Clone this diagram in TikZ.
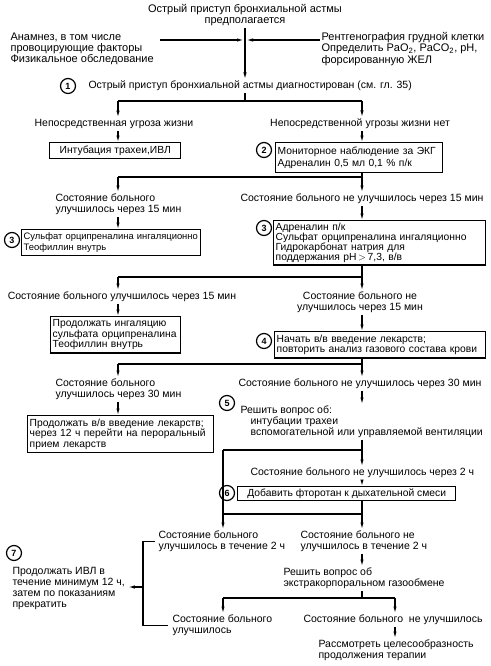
\documentclass[tikz,border=0pt]{standalone}
\usepackage{fontspec}
\setmainfont{Liberation Sans}
\usetikzlibrary{arrows.meta,positioning}
\tikzset{
	txt/.style={inner xsep=0pt, inner ysep=1.5pt, align=left, font=\fontsize{10.5}{11}\selectfont},
	head/.style={txt, font=\fontsize{11}{11.3}\selectfont},
	box/.style={draw, line width=1.4pt, inner xsep=2pt, inner ysep=3pt, align=left, anchor=north west, font=\fontsize{10.3}{10.5}\selectfont},
	num/.style={circle, draw, line width=1.2pt, inner sep=0pt, minimum size=15pt, font=\bfseries\fontsize{9}{9}\selectfont},
	arr/.style={-{Latex[length=6.5pt,width=3.4pt]}}
}
\begin{document}
\begin{tikzpicture}[x=1pt,y=-1pt,line width=1.1pt]
	\useasboundingbox (0,0) rectangle (490,666);
	\node[head, align=center] (suspect) at (245,15) {Острый приступ бронхиальной астмы\\предполагается};
	\node[head, anchor=west] (history) at (10,49) {Анамнез, в том числе\\провоцирующие факторы\\Физикальное обследование};
	\node[head, anchor=west] (xray) at (321,49) {Рентгенография грудной клетки\\Определить PaO\textsubscript{2}, PaCO\textsubscript{2}, pH,\\форсированную ЖЕЛ};
	\coordinate (meet) at (245,40);
	\node[num] (n1) at (68,86) {1};
	\node[txt, anchor=west] (diag) at (88,86) {Острый приступ бронхиальной астмы диагностирован (см. гл. 35)};
	\draw[arr] (suspect.south) -- (suspect.south |- diag.north);
	\draw[arr] ([xshift=6pt]history.east |- meet) -- ([xshift=-1.5pt]meet);
	\draw[arr] ([xshift=-1pt]xray.west |- meet) -- ([xshift=1.5pt]meet);

	\coordinate (j1) at (245,101);
	\coordinate (j1l) at (118,101);
	\coordinate (j1r) at (362,101);
	\node[txt] (threat) at (114,124) {Непосредственная угроза жизни};
	\node[txt] (nothreat) at (360,124) {Непосредственной угрозы жизни нет};
	\draw (diag.south -| j1) -- (j1);
	\draw (j1l) -- (j1r);
	\draw[arr] (j1l) -- (j1l |- threat.north);
	\draw[arr] (j1r) -- (j1r |- nothreat.north);
	\node[box, minimum width=131pt] (ivl) at (49,142) {Интубация трахеи,ИВЛ};
	\draw[arr] (threat.south -| j1l) -- (ivl.north -| j1l);
	\node[num] (n2) at (264,150) {2};
	\node[box, text width=163pt, inner ysep=4pt, font=\fontsize{10.3}{12}\selectfont] (ecg) at (275,142) {Мониторное наблюдение за ЭКГ\\Адреналин 0,5 мл 0,1 \% п/к};
	\draw[arr] (nothreat.south -| j1r) -- (ecg.north -| j1r);

	\coordinate (j2l) at (118,177);
	\coordinate (j2r) at (362,177);
	\draw (ecg.south -| j2r) -- (j2r) -- (j2l);
	\node[txt, anchor=west] (better15a) at (55,204.5) {Состояние больного\\улучшилось через 15 мин};
	\node[txt, anchor=west] (worse15a) at (240,199) {Состояние больного не улучшилось через 15 мин};
	\draw[arr] (j2l) -- (j2l |- better15a.north);
	\draw[arr] (j2r) -- (j2r |- worse15a.north);
	\node[num] (n3a) at (12,240) {3};
	\node[box, text width=175pt, font=\fontsize{9.4}{11}\selectfont] (orci) at (21,229) {Сульфат орципреналина ингаляционно\\Теофиллин внутрь};
	\draw[arr] (better15a.south -| j2l) -- (orci.north -| j2l);
	\node[num] (n3b) at (264,228) {3};
	\node[box, text width=208pt, inner ysep=2pt, font=\fontsize{10.3}{10.2}\selectfont] (adren) at (273,220) {Адреналин п/к\\Сульфат орципреналина ингаляционно\\Гидрокарбонат натрия для\\поддержания pH\,$>$\,7,3, в/в};
	\draw[arr] (worse15a.south -| j2r) -- (adren.north -| j2r);

	\coordinate (j3l) at (118,277);
	\coordinate (j3r) at (362,277);
	\draw (adren.south -| j3r) -- (j3r) -- (j3l);
	\node[txt] (better15b) at (122,297) {Состояние больного улучшилось через 15 мин};
	\node[txt, align=center] (worse15b) at (360,302.5) {Состояние больного не\\улучшилось через 15 мин};
	\draw[arr] (j3l) -- (j3l |- better15b.north);
	\draw[arr] (j3r) -- (j3r |- worse15b.north);
	\node[box, text width=126pt] (inhal) at (50,316) {Продолжать ингаляцию\\сульфата орципреналина\\Теофиллин внутрь};
	\draw[arr] (better15b.south -| j3l) -- (inhal.north -| j3l);
	\node[num] (n4) at (264,341) {4};
	\node[box, text width=207pt] (iv) at (274,331) {Начать в/в введение лекарств;\\повторить анализ газового состава крови};
	\draw[arr] (worse15b.south -| j3r) -- (iv.north -| j3r);

	\coordinate (j4l) at (118,364);
	\coordinate (j4r) at (362,364);
	\draw (iv.south -| j4r) -- (j4r) -- (j4l);
	\node[txt, anchor=west] (better30) at (55,389.5) {Состояние больного\\улучшилось через 30 мин};
	\node[txt, anchor=west] (worse30) at (238,384) {Состояние больного не улучшилось через 30 мин};
	\draw[arr] (j4l) -- (j4l |- better30.north);
	\draw[arr] (j4r) -- (j4r |- worse30.north);
	\node[box, text width=182pt] (oral) at (27,415) {Продолжать в/в введение лекарств;\\через 12 ч перейти на пероральный\\прием лекарств};
	\draw[arr] (better30.south -| j4l) -- (oral.north -| j4l);
	\node[num] (n5) at (227,403) {5};
	\node[txt, anchor=north west] (decide) at (240,404) {Решить вопрос об:\\\hspace*{10pt}интубации трахеи\\\hspace*{10pt}вспомогательной или управляемой вентиляции};
	\draw[arr] (worse30.south -| j4r) -- (decide.north -| j4r);

	\coordinate (j5l) at (223,450);
	\coordinate (j5r) at (362,450);
	\draw (decide.south -| j5r) -- (j5r) -- (j5l);
	\node[txt, anchor=west] (worse2h) at (250,473) {Состояние больного не улучшилось через 2 ч};
	\draw[arr] (j5r) -- (j5r |- worse2h.north);
	\node[num] (n6) at (227,493) {6};
	\node[box, minimum width=218pt, inner ysep=2pt] (halo) at (237,486) {Добавить фторотан к дыхательной смеси};
	\draw[arr] (worse2h.south -| j5r) -- (halo.north -| j5r);

	\coordinate (j6l) at (223,514);
	\coordinate (j6r) at (362,514);
	\draw (halo.south -| j6r) -- (j6r) -- (j6l);
	\node[txt, anchor=west] (better2h) at (158,541.5) {Состояние больного\\улучшилось в течение 2 ч};
	\node[txt, anchor=west] (worse2hb) at (300,541.5) {Состояние больного не\\улучшилось в течение 2 ч};
	\draw[arr] (j5l) -- (j5l |- better2h.north);
	\draw[arr] (j6r) -- (j6r |- worse2hb.north);
	\node[num] (n7) at (14,553) {7};
	\node[txt, anchor=west] (ivl12) at (12,588.5) {Продолжать ИВЛ в\\течение минимум 12 ч,\\затем по показаниям\\прекратить};
	\node[txt, anchor=west] (ecmo) at (283,578.5) {Решить вопрос об\\экстракорпоральном газообмене};
	\draw[arr] (worse2hb.south -| j6r) -- (ecmo.north -| j6r);

	\coordinate (j7) at (362,598);
	\coordinate (j7l) at (223,598);
	\coordinate (j7r) at (395,598);
	\draw (ecmo.south -| j7) -- (j7);
	\draw (j7l) -- (j7r);
	\node[txt, anchor=west] (better) at (172,625.5) {Состояние больного\\улучшилось};
	\node[txt, anchor=west] (worse) at (303,620) {Состояние больного\ \ не улучшилось};
	\draw[arr] (j7l) -- (j7l |- better.north);
	\draw[arr] (j7r) -- (j7r |- worse.north);
	\node[txt, anchor=west] (review) at (318,650.5) {Рассмотреть целесообразность\\продолжения терапии};
	\draw[arr] (worse.south -| j7r) -- (review.north -| j7r);

	\coordinate (br) at (143,587);
	\draw ([xshift=-3pt]better2h.west) -| (br);
	\draw ([xshift=-4pt]better.west) -| (br);
	\draw[arr] (br) -- ([xshift=3pt]ivl12.east |- br);
\end{tikzpicture}
\end{document}
